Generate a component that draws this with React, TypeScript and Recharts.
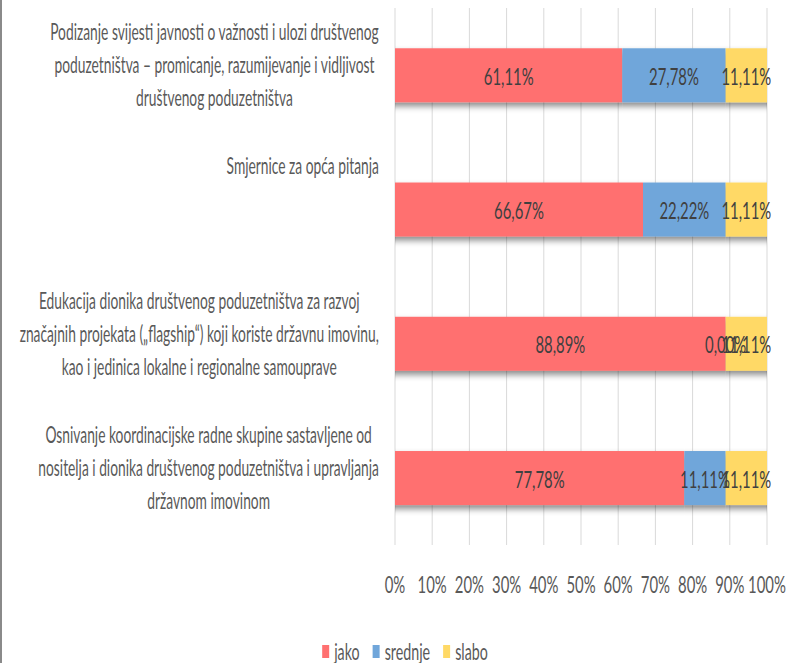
import React from 'react';
import { BarChart, Bar, XAxis, YAxis, CartesianGrid, Legend, LabelList } from 'recharts';

const categories = [
  'Podizanje svijesti javnosti o važnosti i ulozi društvenog\npoduzetništva – promicanje, razumijevanje i vidljivost\ndruštvenog poduzetništva',
  'Smjernice za opća pitanja',
  'Edukacija dionika društvenog poduzetništva za razvoj\nznačajnih projekata („flagship“) koji koriste državnu imovinu,\nkao i jedinica lokalne i regionalne samouprave',
  'Osnivanje koordinacijske radne skupine sastavljene od\nnositelja i dionika društvenog poduzetništva i upravljanja\ndržavnom imovinom',
];
const seriesNames = ['jako', 'srednje', 'slabo'];
const jako = [61.11, 66.67, 88.89, 77.78];
const srednje = [27.78, 22.22, 0.0, 11.11];
const slabo = [11.11, 11.11, 11.11, 11.11];
const xTicks = [0, 10, 20, 30, 40, 50, 60, 70, 80, 90, 100];

const colors = ['#FF7070', '#70A6DA', '#FFD966'];

const data = categories.map((c, i) => ({ name: c, jako: jako[i], srednje: srednje[i], slabo: slabo[i] }));

const FAMILY = 'Lato';
const FONT = `${FAMILY}, sans-serif`;
const SX = 0.62;
const SX_CAT = 0.6;
const FS = 23;

let ctx: CanvasRenderingContext2D | null = null;
function textWidth(s: string, size: number) {
  if (!ctx) ctx = document.createElement('canvas').getContext('2d');
  if (!ctx) return s.length * size * 0.5;
  ctx.font = `${size}px ${FAMILY}`;
  return ctx.measureText(s).width;
}

const SText = ({ x, y, size = FS, sx = SX, fill = '#595959', children }: any) => (
  <text
    transform={`translate(${x},${y}) scale(${sx},1)`}
    textAnchor="middle"
    dominantBaseline="central"
    fontSize={size}
    fontFamily={FONT}
    fill={fill}
  >
    {children}
  </text>
);

const YTick = (props: any) => {
  const { x, y, payload } = props;
  const lines: string[] = String(payload.value).split('\n');
  const blockW = Math.max(...lines.map((l) => textWidth(l, FS))) * SX_CAT;
  const cx = x - blockW / 2;
  return (
    <g>
      {lines.map((l, i) => (
        <SText key={i} x={cx} y={y - 44 + i * 33} sx={SX_CAT}>
          {l}
        </SText>
      ))}
    </g>
  );
};

const XTick = (props: any) => {
  const { x, y, payload } = props;
  return (
    <SText x={x} y={y + 30} size={24}>
      {`${payload.value}%`}
    </SText>
  );
};

const ShadowRect = (props: any) => {
  const { x, y, width, height, fill } = props;
  if (!width || width <= 0) return <g />;
  return <rect x={x} y={y} width={width} height={height} fill={fill} filter="url(#barShadow)" />;
};

const fmt = (v: number) => `${v.toFixed(2).replace('.', ',')}%`;

const DataLabel = (props: any) => {
  const { x, y, width, height, value } = props;
  return (
    <SText x={x + width / 2} y={y + height / 2} fill="#404040" size={24}>
      {fmt(Number(value))}
    </SText>
  );
};

const LegendContent = () => {
  const items = seriesNames.map((n, i) => ({ n, c: colors[i], w: textWidth(n, FS) * SX }));
  const marker = 7;
  const gap = 5;
  const itemGap = 13;
  const total = items.reduce((s, it) => s + marker + gap + it.w, 0) + itemGap * (items.length - 1);
  let cur = 405 - total / 2;
  return (
    <svg width={786} height={29} style={{ display: 'block', overflow: 'visible' }}>
      {items.map((it, i) => {
        const x0 = cur;
        cur += marker + gap + it.w + itemGap;
        return (
          <g key={i}>
            <rect x={x0} y={11} width={marker} height={13} fill={it.c} />
            <SText x={x0 + marker + gap + it.w / 2} y={17}>
              {it.n}
            </SText>
          </g>
        );
      })}
    </svg>
  );
};

export default function App() {
  return (
    <div style={{ position: 'absolute', left: 0, top: 0, width: 786, height: 663, background: '#fff', overflow: 'hidden' }}>
      <svg width={0} height={0} style={{ position: 'absolute' }}>
        <defs>
          <filter id="barShadow" x="-5%" y="-20%" width="110%" height="160%">
            <feDropShadow dx={0} dy={4} stdDeviation="0.01 3" floodColor="#000" floodOpacity={0.45} />
          </filter>
        </defs>
      </svg>
      <div style={{ position: 'absolute', left: 0, top: 0, width: 2, height: 663, background: '#8a8a8a' }} />
      <BarChart
        width={786}
        height={663}
        data={data}
        layout="vertical"
        margin={{ top: 8, right: 19, bottom: 19, left: 0 }}
        barCategoryGap="30%"
      >
        <CartesianGrid horizontal={false} vertical stroke="#D9D9D9" />
        <XAxis
          type="number"
          domain={[0, 100]}
          ticks={xTicks}
          axisLine={false}
          tickLine={false}
          height={70}
          tick={<XTick />}
          interval={0}
        />
        <YAxis
          type="category"
          dataKey="name"
          width={395}
          axisLine={false}
          tickLine={false}
          tickMargin={10}
          tick={<YTick />}
          interval={0}
        />
        <Legend content={<LegendContent />} height={29} wrapperStyle={{ position: 'absolute', left: 0, top: 634, width: 786, height: 29 }} />
        {seriesNames.map((n, i) => (
          <Bar key={n} dataKey={n} stackId="a" fill={colors[i]} isAnimationActive={false} shape={<ShadowRect />}>
            <LabelList dataKey={n} content={<DataLabel />} />
          </Bar>
        ))}
      </BarChart>
    </div>
  );
}
